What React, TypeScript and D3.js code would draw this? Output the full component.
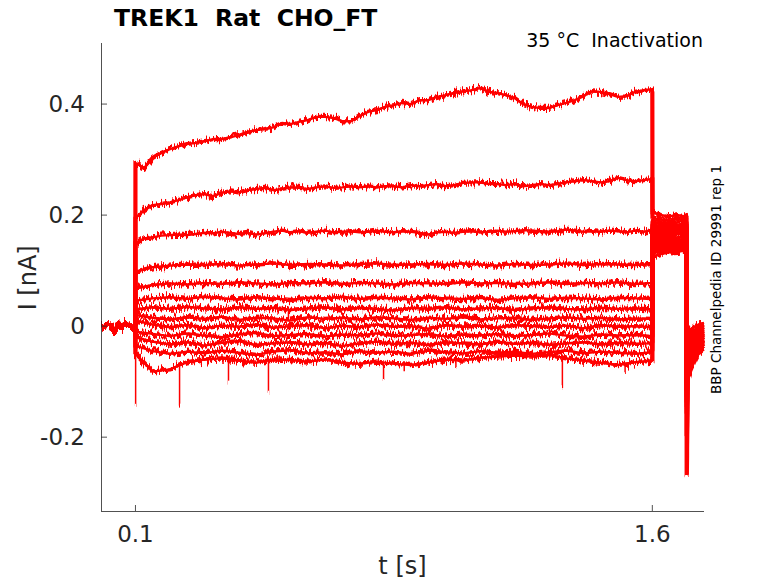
import * as d3 from 'd3';

const WIDTH = 778;
const HEIGHT = 583;
const MARGIN = { top: 43, right: 74, bottom: 72, left: 101 };
const RED = '#ff0000';
const INK = '#262626';

// time grids (s)
const PRE_T = [0, 0.01, 0.02, 0.03, 0.04, 0.05, 0.06, 0.07, 0.08, 0.09, 0.0995];
const FINE_T = d3.range(61).map((k) => 0.1 + k * 0.025);
const COARSE_T = d3.range(31).map((k) => 0.1 + k * 0.05);
const TAIL_T = [1.6005, 1.625, 1.65, 1.675, 1.6995];
const TAIL2_T = [1.7025, 1.71, 1.72, 1.73, 1.74, 1.75];

const X_TICKS = [0.1, 1.6];
const Y_TICKS = [-0.2, 0, 0.2, 0.4];
const Y_TICK_LABELS = ['-0.2', '0', '0.2', '0.4'];

// holding current before the step (nA)
const PRE = [0.002, -0.003, 0.004, 0.0, -0.012, 0.006, -0.004, 0.007, 0.002, -0.003, 0.001];

// three largest traces, read at 25 ms
const FINE_STEPS = [
  [0.294, 0.285, 0.303, 0.312, 0.319, 0.324, 0.328, 0.33, 0.333, 0.337, 0.337, 0.34, 0.344, 0.35, 0.353, 0.355, 0.358, 0.366, 0.364, 0.368, 0.371, 0.377, 0.377, 0.375, 0.369, 0.369, 0.378, 0.386, 0.389, 0.395, 0.398, 0.402, 0.4, 0.407, 0.407, 0.413, 0.416, 0.42, 0.423, 0.425, 0.429, 0.422, 0.42, 0.416, 0.411, 0.4, 0.395, 0.393, 0.393, 0.398, 0.402, 0.407, 0.414, 0.423, 0.422, 0.418, 0.413, 0.414, 0.422, 0.425, 0.427],
  [0.195, 0.209, 0.218, 0.22, 0.223, 0.227, 0.232, 0.236, 0.238, 0.234, 0.24, 0.243, 0.241, 0.245, 0.247, 0.249, 0.245, 0.247, 0.25, 0.249, 0.247, 0.25, 0.252, 0.249, 0.25, 0.252, 0.25, 0.252, 0.25, 0.252, 0.252, 0.25, 0.254, 0.252, 0.254, 0.256, 0.252, 0.254, 0.258, 0.259, 0.259, 0.256, 0.256, 0.254, 0.256, 0.252, 0.254, 0.256, 0.254, 0.256, 0.259, 0.261, 0.263, 0.261, 0.259, 0.261, 0.267, 0.263, 0.261, 0.263, 0.265],
  [0.148, 0.158, 0.16, 0.163, 0.164, 0.165, 0.164, 0.166, 0.168, 0.167, 0.17, 0.168, 0.166, 0.168, 0.165, 0.167, 0.17, 0.172, 0.169, 0.171, 0.168, 0.17, 0.172, 0.169, 0.17, 0.171, 0.169, 0.17, 0.172, 0.17, 0.169, 0.171, 0.17, 0.168, 0.165, 0.169, 0.17, 0.168, 0.17, 0.171, 0.169, 0.17, 0.172, 0.17, 0.171, 0.173, 0.172, 0.171, 0.17, 0.171, 0.174, 0.172, 0.17, 0.171, 0.17, 0.172, 0.171, 0.169, 0.172, 0.17, 0.173],
];

// smaller traces, read at 50 ms
const COARSE_STEPS = [
  [0.098, 0.106, 0.109, 0.111, 0.11, 0.112, 0.109, 0.111, 0.113, 0.11, 0.112, 0.111, 0.109, 0.112, 0.113, 0.11, 0.111, 0.112, 0.11, 0.113, 0.111, 0.109, 0.112, 0.11, 0.111, 0.113, 0.11, 0.112, 0.111, 0.11, 0.112],
  [0.068, 0.074, 0.077, 0.075, 0.078, 0.076, 0.079, 0.077, 0.075, 0.078, 0.077, 0.079, 0.076, 0.078, 0.077, 0.075, 0.078, 0.077, 0.076, 0.079, 0.077, 0.078, 0.076, 0.077, 0.079, 0.076, 0.078, 0.077, 0.079, 0.076, 0.078],
  [0.046, 0.05, 0.052, 0.049, 0.053, 0.05, 0.048, 0.052, 0.05, 0.047, 0.051, 0.05, 0.053, 0.049, 0.051, 0.05, 0.048, 0.052, 0.05, 0.049, 0.051, 0.047, 0.05, 0.052, 0.049, 0.051, 0.05, 0.048, 0.051, 0.05, 0.049],
  [0.03, 0.034, 0.031, 0.035, 0.032, 0.03, 0.034, 0.031, 0.033, 0.029, 0.032, 0.034, 0.03, 0.033, 0.031, 0.028, 0.033, 0.031, 0.034, 0.03, 0.032, 0.033, 0.029, 0.032, 0.034, 0.031, 0.03, 0.033, 0.031, 0.032, 0.03],
  [0.02, 0.015, 0.012, 0.016, 0.013, 0.017, 0.011, 0.015, 0.014, 0.01, 0.016, 0.013, 0.015, 0.012, 0.016, 0.014, 0.011, 0.015, 0.013, 0.016, 0.012, 0.014, 0.015, 0.011, 0.014, 0.016, 0.013, 0.015, 0.012, 0.014, 0.013],
  [0.01, 0.003, -0.002, 0.002, -0.004, 0.001, -0.001, 0.003, -0.003, 0.0, 0.002, -0.004, 0.001, -0.002, 0.003, -0.001, 0.0, -0.005, 0.002, -0.001, 0.001, -0.003, 0.002, 0.0, -0.002, 0.001, -0.004, 0.002, -0.001, 0.0, -0.002],
  [-0.01, -0.014, -0.018, -0.013, -0.017, -0.02, -0.015, -0.012, -0.018, -0.016, -0.014, -0.019, -0.015, -0.017, -0.013, -0.018, -0.016, -0.014, -0.019, -0.015, -0.017, -0.014, -0.018, -0.016, -0.013, -0.017, -0.019, -0.015, -0.017, -0.016, -0.018],
  [-0.02, -0.028, -0.033, -0.029, -0.035, -0.03, -0.027, -0.034, -0.031, -0.029, -0.033, -0.03, -0.036, -0.031, -0.028, -0.032, -0.03, -0.034, -0.029, -0.031, -0.033, -0.028, -0.032, -0.03, -0.034, -0.031, -0.029, -0.033, -0.03, -0.032, -0.031],
  [-0.035, -0.045, -0.05, -0.046, -0.049, -0.044, -0.048, -0.052, -0.046, -0.043, -0.049, -0.047, -0.051, -0.045, -0.048, -0.046, -0.05, -0.044, -0.047, -0.049, -0.045, -0.048, -0.046, -0.05, -0.047, -0.044, -0.049, -0.046, -0.048, -0.05, -0.047],
  [-0.05, -0.082, -0.078, -0.065, -0.06, -0.058, -0.062, -0.066, -0.06, -0.061, -0.064, -0.06, -0.066, -0.068, -0.064, -0.068, -0.07, -0.065, -0.06, -0.062, -0.057, -0.055, -0.053, -0.055, -0.052, -0.058, -0.062, -0.066, -0.07, -0.065, -0.062],
];

// test pulse after the step, one row per trace (top to bottom)
const TAILS = [
  [0.205, 0.2, 0.198, 0.2, 0.197],
  [0.195, 0.192, 0.19, 0.193, 0.19],
  [0.188, 0.185, 0.186, 0.183, 0.185],
  [0.182, 0.178, 0.18, 0.177, 0.178],
  [0.176, 0.172, 0.174, 0.171, 0.172],
  [0.17, 0.167, 0.166, 0.168, 0.165],
  [0.164, 0.16, 0.162, 0.159, 0.16],
  [0.158, 0.155, 0.156, 0.153, 0.155],
  [0.152, 0.15, 0.149, 0.151, 0.149],
  [0.147, 0.145, 0.146, 0.144, 0.146],
  [0.142, 0.14, 0.142, 0.141, 0.143],
  [0.136, 0.136, 0.138, 0.137, 0.14],
  [0.125, 0.13, 0.133, 0.134, 0.137],
];

// capacitive transient at the end of the test pulse
const TAIL_SPIKE = [-0.09, -0.1, -0.11, -0.1, -0.12, -0.11, -0.13, -0.12, -0.14, -0.15, -0.16, -0.2, -0.265];

const TAILS2 = [
  [-0.012, -0.006, -0.002, 0.002, 0.004, 0.006],
  [-0.02, -0.013, -0.008, -0.004, -0.001, 0.002],
  [-0.027, -0.02, -0.014, -0.009, -0.005, -0.002],
  [-0.033, -0.026, -0.019, -0.013, -0.009, -0.006],
  [-0.04, -0.032, -0.025, -0.018, -0.013, -0.01],
  [-0.046, -0.037, -0.029, -0.022, -0.017, -0.013],
  [-0.052, -0.043, -0.034, -0.027, -0.021, -0.017],
  [-0.058, -0.048, -0.039, -0.031, -0.025, -0.021],
  [-0.064, -0.054, -0.044, -0.035, -0.029, -0.025],
  [-0.07, -0.06, -0.049, -0.04, -0.033, -0.029],
  [-0.077, -0.065, -0.054, -0.044, -0.037, -0.033],
  [-0.085, -0.072, -0.06, -0.049, -0.041, -0.037],
  [-0.097, -0.08, -0.066, -0.054, -0.046, -0.042],
];

// brief downward openings on the lower traces
const SPIKE_T = [0.1005, 0.228, 0.37, 0.486, 0.544, 0.82, 0.88, 1.03, 1.339, 1.521];
const SPIKE_FROM = [-0.05, -0.075, -0.062, -0.064, 0.032, -0.066, -0.066, -0.06, -0.056, -0.066];
const SPIKE_TO = [-0.14, -0.145, -0.1, -0.12, 0.012, -0.097, -0.085, -0.076, -0.11, -0.085];

type Pt = [number, number];

const App = () => {
  const boundsWidth = WIDTH - MARGIN.left - MARGIN.right;
  const boundsHeight = HEIGHT - MARGIN.top - MARGIN.bottom;

  const xScale = d3.scaleLinear().domain([0, 1.75]).range([0, boundsWidth]);
  const yScale = d3.scaleLinear().domain([-0.333, 0.51]).range([boundsHeight, 0]);

  const line = d3
    .line<Pt>()
    .x((d) => xScale(d[0]))
    .y((d) => yScale(d[1]));

  const stepRows = [...FINE_STEPS.map((v) => ({ t: FINE_T, v })), ...COARSE_STEPS.map((v) => ({ t: COARSE_T, v }))];

  const tracePaths = stepRows.map((row, i) => {
    const pts: Pt[] = [
      ...PRE_T.map((t, j) => [t, PRE[j]] as Pt),
      ...row.t.map((t, j) => [t, row.v[j]] as Pt),
      ...TAIL_T.map((t, j) => [t, TAILS[i][j]] as Pt),
      [1.7, TAIL_SPIKE[i]],
      ...TAIL2_T.map((t, j) => [t, TAILS2[i][j]] as Pt),
    ];
    return line(pts) ?? '';
  });

  const spikes = SPIKE_T.map((t, i) => (
    <path
      key={i}
      d={line([[t, SPIKE_FROM[i]], [t, SPIKE_TO[i]]]) ?? ''}
      stroke={RED}
      strokeWidth={1.5}
    />
  ));

  const font = 'DejaVu Sans, sans-serif';

  return (
    <svg
      width={WIDTH}
      height={HEIGHT}
      style={{ position: 'absolute', left: 0, top: 0, background: '#fff' }}
      fontFamily={font}
    >
      <rect width={WIDTH} height={HEIGHT} fill="#fff" />
      <defs>
        {/* recording-noise texture: columns shifted up/down */}
        <filter id="jitter" x="-2%" y="-5%" width="104%" height="110%" colorInterpolationFilters="sRGB">
          <feTurbulence type="fractalNoise" baseFrequency="0.6 0.06" numOctaves={2} seed={7} result="n" />
          <feColorMatrix
            in="n"
            type="matrix"
            values="0 0 0 0 0.5  0 1 0 0 0  0 0 0 0 0  0 0 0 0 1"
            result="m"
          />
          <feDisplacementMap in="SourceGraphic" in2="m" scale={13} xChannelSelector="R" yChannelSelector="G" />
        </filter>
      </defs>
      <g transform={`translate(${MARGIN.left},${MARGIN.top})`}>
        <defs>
          <clipPath id="plot">
            <rect x={0} y={-2} width={boundsWidth + 2} height={boundsHeight + 2} />
          </clipPath>
        </defs>
        <g clipPath="url(#plot)">
          {/* solid core of each trace */}
          {tracePaths.map((d, i) => (
            <path key={i} d={d} fill="none" stroke={RED} strokeWidth={2.4} strokeLinejoin="round" />
          ))}
          <g filter="url(#jitter)">
            {tracePaths.map((d, i) => (
              <path
                key={i}
                d={d}
                fill="none"
                stroke={RED}
                strokeWidth={i < 3 ? 4.2 : 4.4}
                strokeLinejoin="round"
              />
            ))}
            {spikes}
          </g>
        </g>

        {/* axes */}
        <line x1={0.5} x2={0.5} y1={0} y2={boundsHeight} stroke={INK} strokeWidth={1} opacity={0.8} />
        <line x1={0} x2={boundsWidth} y1={boundsHeight + 0.5} y2={boundsHeight + 0.5} stroke={INK} strokeWidth={1} opacity={0.8} />

        {Y_TICKS.map((v, i) => (
          <g key={i}>
            <line x1={0} x2={6} y1={yScale(v)} y2={yScale(v)} stroke={INK} opacity={0.8} />
            <text
              x={-16}
              y={yScale(v)}
              textAnchor="end"
              dominantBaseline="central"
              fontSize={23}
              fill={INK}
            >
              {Y_TICK_LABELS[i]}
            </text>
          </g>
        ))}

        {X_TICKS.map((v, i) => (
          <g key={i}>
            <line x1={xScale(v)} x2={xScale(v)} y1={boundsHeight} y2={boundsHeight - 6} stroke={INK} opacity={0.8} />
            <text x={xScale(v)} y={boundsHeight + 31} textAnchor="middle" fontSize={23} fill={INK}>
              {v}
            </text>
          </g>
        ))}

        <text x={boundsWidth / 2} y={boundsHeight + 63} textAnchor="middle" fontSize={24} fill={INK}>
          t [s]
        </text>
        <text
          transform={`translate(${-65},${yScale(0.087)}) rotate(-90)`}
          textAnchor="middle"
          fontSize={24}
          fill={INK}
        >
          I [nA]
        </text>
      </g>

      <text x={114} y={26} fontSize={23.5} fontWeight="bold" fill="#000" style={{ whiteSpace: 'pre' }}>
        TREK1  Rat  CHO_FT
      </text>
      <text x={703} y={47} textAnchor="end" fontSize={19} fill="#000" style={{ whiteSpace: 'pre' }}>
        35 °C  Inactivation
      </text>
      <text transform="translate(721,394) rotate(-90)" fontSize={13.5} fill="#000">
        BBP Channelpedia ID 29991 rep 1
      </text>
    </svg>
  );
};

export default App;
